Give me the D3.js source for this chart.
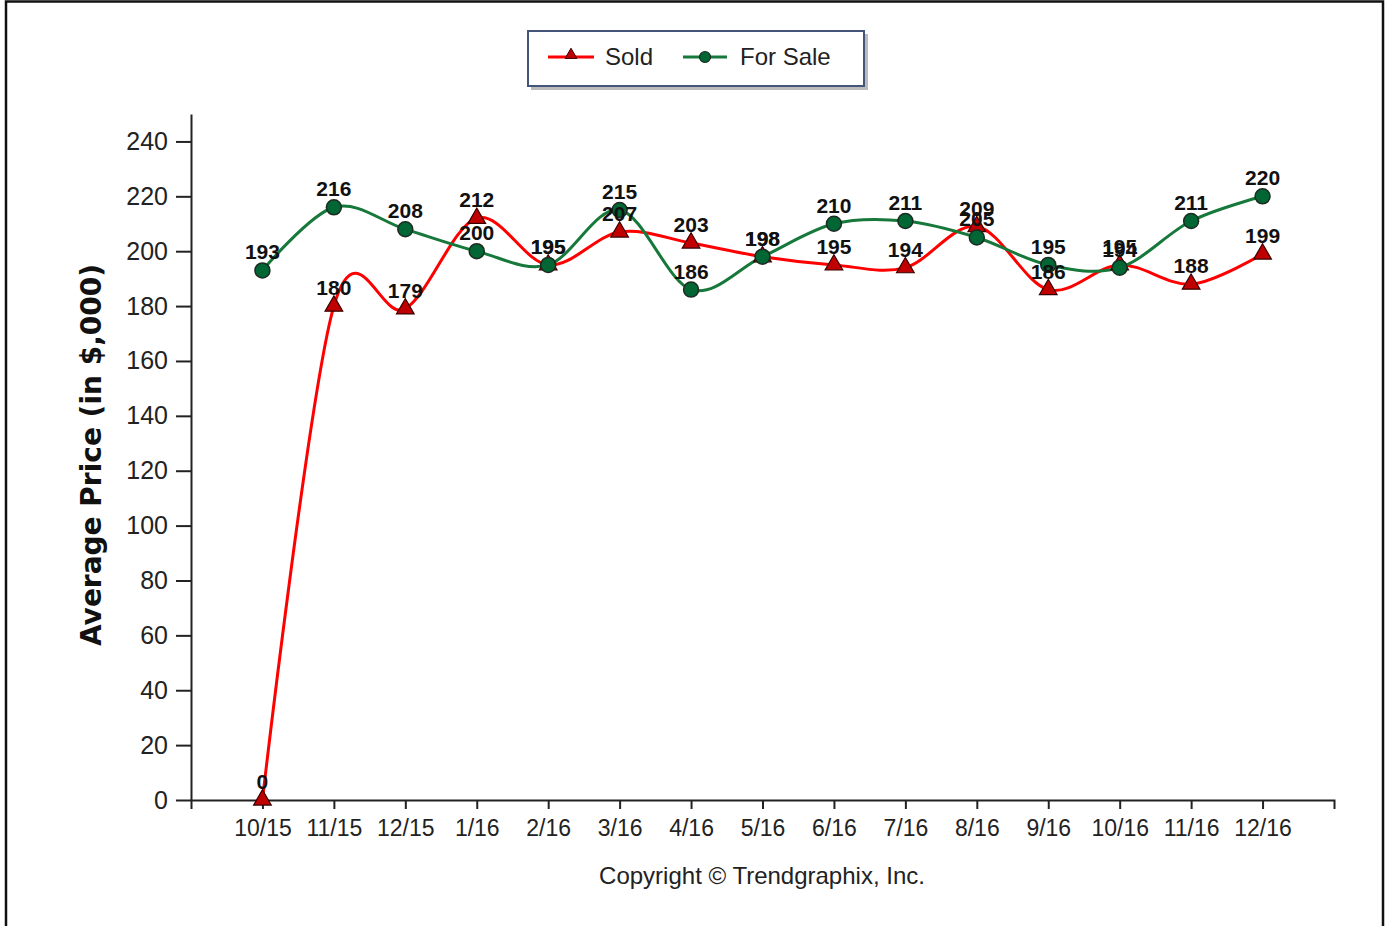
<!DOCTYPE html>
<html>
<head>
<meta charset="utf-8">
<script src="https://cdn.jsdelivr.net/npm/d3@7"></script>
<style>
  html, body { margin: 0; padding: 0; background: #fff; }
  svg { display: block; }
  text { font-family: "Liberation Sans", Arial, sans-serif; }
</style>
</head>
<body>
<svg id="chart" width="1385" height="926"></svg>
<script>
const categories = ["10/15","11/15","12/15","1/16","2/16","3/16","4/16","5/16","6/16","7/16","8/16","9/16","10/16","11/16","12/16"];
const soldValues = [0,180,179,212,195,207,203,198,195,194,209,186,195,188,199];
const forSaleValues = [193,216,208,200,195,215,186,198,210,211,205,195,194,211,220];
const yTickValues = [0,20,40,60,80,100,120,140,160,180,200,220,240];
const yDomain = [0, 250];
const seriesNames = ["Sold", "For Sale"];
const yTitle = "Average Price (in $,000)";
const copyright = "Copyright \u00A9 Trendgraphix, Inc.";

(function () {
const svg = d3.select("#chart");

// outer frame
svg.append("rect").attr("x", 6).attr("y", 1.5).attr("width", 1377).attr("height", 940)
  .attr("fill", "none").attr("stroke", "#111").attr("stroke-width", 2.5);

const pLeft = 191, pRight = 1334, pTop = 114, pBottom = 800;

const x = d3.scalePoint().domain(categories).range([pLeft, pRight]).padding(1);
const y = d3.scaleLinear().domain(yDomain).range([pBottom, pTop]);

// Y axis
const yAxis = svg.append("g").attr("transform", `translate(${pLeft},0)`)
  .call(d3.axisLeft(y).tickValues(yTickValues).tickSize(15).tickSizeOuter(0).tickPadding(8));
yAxis.select(".domain").attr("stroke", "#222").attr("stroke-width", 2);
yAxis.selectAll(".tick line").attr("stroke", "#222").attr("stroke-width", 2);
yAxis.selectAll(".tick text").attr("font-size", 25).attr("fill", "#222")
  .style("font-family", "'Liberation Sans', Arial, sans-serif");

// X axis
const xAxis = svg.append("g").attr("transform", `translate(0,${pBottom})`)
  .call(d3.axisBottom(x).tickSize(9).tickSizeOuter(9).tickPadding(11));
xAxis.select(".domain").attr("stroke", "#222").attr("stroke-width", 2);
xAxis.selectAll(".tick line").attr("stroke", "#222").attr("stroke-width", 2);
xAxis.selectAll(".tick text").attr("font-size", 23).attr("fill", "#222")
  .style("font-family", "'Liberation Sans', Arial, sans-serif");

// Y title
svg.append("text")
  .attr("transform", `translate(101,${(pTop + pBottom) / 2 - 2}) rotate(-90)`)
  .attr("text-anchor", "middle")
  .style("font-family", "'DejaVu Sans', Verdana, sans-serif")
  .attr("font-size", 28).attr("font-weight", "bold").attr("fill", "#111")
  .text(yTitle);

// Copyright
svg.append("text").attr("x", 762).attr("y", 884).attr("text-anchor", "middle")
  .attr("font-size", 24).attr("fill", "#222").text(copyright);

const line = d3.line().x((d, i) => x(categories[i])).y(d => y(d)).curve(d3.curveCardinal.tension(0));

const series = [
  { name: seriesNames[0], values: soldValues, color: "#ff0000", marker: "triangle" },
  { name: seriesNames[1], values: forSaleValues, color: "#16783a", marker: "circle" }
];

const triangle = d3.symbol().type(d3.symbolTriangle).size(135);

series.forEach(s => {
  svg.append("path").datum(s.values).attr("d", line)
    .attr("fill", "none").attr("stroke", s.color).attr("stroke-width", 3);
});

series.forEach(s => {
  const g = svg.append("g");
  s.values.forEach((v, i) => {
    const cx = x(categories[i]), cy = y(v);
    if (s.marker === "triangle") {
      g.append("path").attr("d", triangle).attr("transform", `translate(${cx},${cy})`)
        .attr("fill", "#c00000").attr("stroke", "#3a0000").attr("stroke-width", 1.2);
    } else {
      g.append("circle").attr("cx", cx).attr("cy", cy).attr("r", 7.5)
        .attr("fill", "#006633").attr("stroke", "#1e2a22").attr("stroke-width", 1.5);
    }
  });
});

series.forEach(s => {
  s.values.forEach((v, i) => {
    svg.append("text").attr("x", x(categories[i])).attr("y", y(v) - 11)
      .attr("text-anchor", "middle").attr("font-size", 21).attr("font-weight", "bold")
      .attr("fill", "#111").text(v);
  });
});

// Legend
const lg = svg.append("g");
lg.append("rect").attr("x", 531).attr("y", 34).attr("width", 337).attr("height", 56).attr("fill", "#bbb");
lg.append("rect").attr("x", 528).attr("y", 31).attr("width", 336).attr("height", 55)
  .attr("fill", "#fff").attr("stroke", "#44557a").attr("stroke-width", 2);
const lgItems = [
  { s: series[0], x0: 548, x1: 594, tx: 605 },
  { s: series[1], x0: 683, x1: 727, tx: 740 }
];
lgItems.forEach(it => {
  lg.append("line").attr("x1", it.x0).attr("x2", it.x1).attr("y1", 57).attr("y2", 57)
    .attr("stroke", it.s.color).attr("stroke-width", 3);
  const mx = (it.x0 + it.x1) / 2;
  if (it.s.marker === "triangle") {
    lg.append("path").attr("d", d3.symbol().type(d3.symbolTriangle).size(60))
      .attr("transform", `translate(${mx},55)`).attr("fill", "#c00000").attr("stroke", "#3a0000");
  } else {
    lg.append("circle").attr("cx", mx).attr("cy", 57).attr("r", 5.5)
      .attr("fill", "#006633").attr("stroke", "#1e2a22").attr("stroke-width", 1.2);
  }
  lg.append("text").attr("x", it.tx).attr("y", 65).attr("font-size", 24).attr("fill", "#222")
    .text(it.s.name);
});
})();
</script>
</body>
</html>
